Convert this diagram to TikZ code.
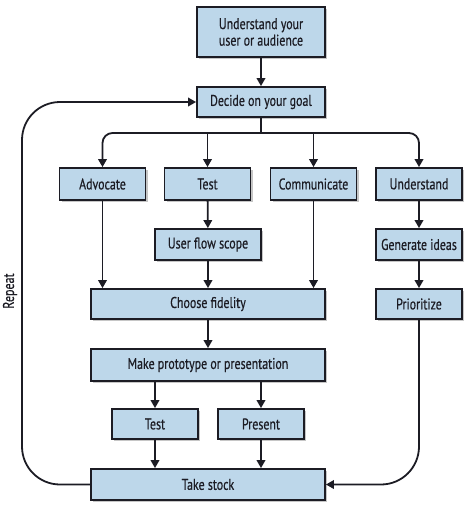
\documentclass[tikz,border=0pt]{standalone}
\usepackage{fontspec}
\setmainfont{PT Sans}[FakeStretch=0.77, FakeBold=0.45]
\usetikzlibrary{arrows.meta,shadows}

\definecolor{boxblue}{HTML}{BDD7EA}
\definecolor{inkdark}{HTML}{1C1C24}

\tikzset{
  stepbox/.style={draw=inkdark, line width=1.8pt, fill=boxblue, text=inkdark,
    minimum width=86pt, minimum height=31pt, inner sep=2pt, align=center,
    font=\fontsize{15.5}{16.5}\selectfont,
    drop shadow={shadow xshift=2pt, shadow yshift=-2pt, opacity=0.45, fill=gray}},
  widebox/.style={stepbox, minimum width=234pt},
  flow/.style={draw=inkdark, line width=1.8pt, -{Triangle[length=8pt,width=8.5pt]}}
}

\begin{document}
\begin{tikzpicture}[x=1pt, y=1pt]
	\useasboundingbox (0,0) rectangle (474,-512);

	% top of the flow
	\node [stepbox, minimum width=128pt, minimum height=50pt] (audience) at (261,-32) {Understand your\\user or audience};
	\node [stepbox, minimum width=128pt, minimum height=30pt] (goal) at (261,-102) {Decide on your goal};

	% the four goals
	\node [stepbox, minimum height=32pt] (advocate) at (102.5,-184) {Advocate};
	\node [stepbox, minimum height=32pt] (test) at (207.5,-184) {Test};
	\node [stepbox, minimum height=32pt] (communicate) at (313.5,-184) {Communicate};
	\node [stepbox, minimum height=32pt] (understand) at (419,-184) {Understand};

	\node [stepbox, minimum width=106pt] (scope) at (208,-244.5) {User flow scope};
	\node [stepbox] (ideas) at (419,-244.5) {Generate ideas};

	\node [widebox, minimum height=30pt] (fidelity) at (208,-304) {Choose fidelity};
	\node [stepbox, minimum height=30pt] (prioritize) at (419,-304) {Prioritize};

	\node [widebox, minimum height=32pt] (prototype) at (208,-365) {Make prototype or presentation};
	\node [stepbox, minimum height=30pt] (ptest) at (155,-424) {Test};
	\node [stepbox, minimum height=30pt] (present) at (261,-424) {Present};

	\node [widebox] (stock) at (208,-484.5) {Take stock};

	\coordinate (split) at (261,-133);
	\coordinate (loop) at (22,-300);

	% connectors
	\draw [flow] (audience) -- (goal);
	\draw [draw=inkdark, line width=1.8pt] (goal.south) -- (split);
	\draw [flow, rounded corners=10pt] (split) -| (advocate.north);
	\draw [flow, rounded corners=10pt] (split) -| (understand.north);
	\draw [flow] (split -| test.north) -- (test.north);
	\draw [flow] (split -| communicate.north) -- (communicate.north);

	\draw [flow] (test) -- (scope);
	\draw [flow] (scope) -- (fidelity);
	\draw [flow] (advocate.south) -- (advocate.south |- fidelity.north);
	\draw [flow] (communicate.south) -- (communicate.south |- fidelity.north);
	\draw [flow] (understand) -- (ideas);
	\draw [flow] (ideas) -- (prioritize);

	\draw [flow] (fidelity) -- (prototype);
	\draw [flow] (ptest.north |- prototype.south) -- (ptest.north);
	\draw [flow] (present.north |- prototype.south) -- (present.north);
	\draw [flow] (ptest.south) -- (ptest.south |- stock.north);
	\draw [flow] (present.south) -- (present.south |- stock.north);

	% going round again
	\draw [flow, rounded corners=38pt] (stock.west) -| (loop) |- (goal.west);
	\draw [flow, rounded corners=38pt] (prioritize.south) |- (stock.east);
	\node [rotate=90, text=inkdark, font=\fontsize{15.5}{16.5}\selectfont] (repeat) at (10,-291) {Repeat};
\end{tikzpicture}
\end{document}
